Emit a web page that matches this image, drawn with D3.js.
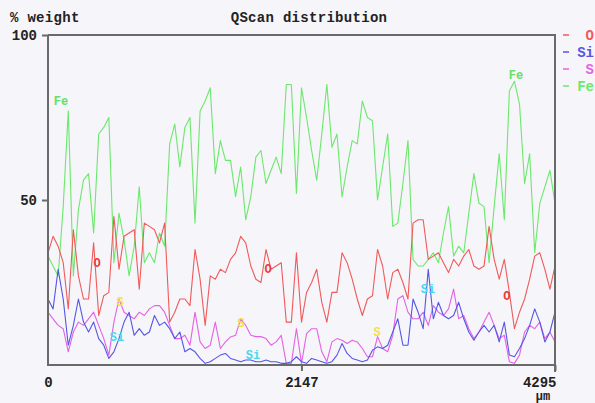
<!DOCTYPE html>
<html>
<head>
<meta charset="utf-8">
<script src="https://cdn.jsdelivr.net/npm/d3@7"></script>
<style>
  html, body { margin: 0; padding: 0; background: #f5f5fa; }
  svg { display: block; }
  text { font-family: "Liberation Mono", "DejaVu Sans Mono", monospace; font-weight: bold; }
</style>
</head>
<body>
<svg id="chart" width="595" height="403"></svg>
<script>
// Scan length along the line profile (µm) and axis ticks
const scanLength = 4295;
const xTickValues = [0, 2147, 4295];
const yTickValues = [50, 100];

// Element order as listed in the legend
const elements = ["O", "Si", "S", "Fe"];

// Weight % of each element along the scan (evenly spaced points)
const oValues = [
  34, 39, 36, 31, 17, 41, 27, 20, 20, 37,
  15, 21, 22, 45, 29, 39, 40, 41, 23, 43,
  42, 41, 37, 43, 13, 16, 20, 20, 18, 35,
  26, 12, 27, 26, 29, 28, 32, 34, 39, 37,
  30, 26, 25, 35, 29, 30, 31, 13, 13, 34,
  13, 22, 25, 29, 19, 13, 22, 22, 34, 31,
  26, 20, 15, 20, 21, 35, 30, 20, 28, 29,
  25, 20, 43, 44, 44, 32, 33, 34, 31, 28,
  32, 30, 33, 35, 30, 29, 30, 42, 32, 26,
  32, 22, 11, 16, 20, 26, 33, 34, 29, 23, 30
];
const siValues = [
  20, 17, 29, 20, 6, 12, 20, 13, 10, 13,
  8, 6, 2, 4, 8, 13, 16, 9, 11, 9,
  10, 15, 12, 13, 11, 8, 10, 4, 5, 4,
  2, 0.5, 1, 2, 3, 3.5, 2, 1.5, 1, 1.5,
  1.5, 1, 1, 1.5, 1, 1, 0.5, 0.5, 1, 2.5,
  1, 0.5, 2, 1.5, 1, 0.5, 1, 3, 6.5, 3.5,
  2, 1.5, 1, 1.5, 4.5, 5.5, 5, 6, 10, 14,
  6, 6, 20, 16, 11, 29, 14, 19, 15, 14,
  15, 19, 14, 10, 7.5, 10, 12, 10, 12, 7,
  13, 3, 2.5, 5, 8, 12, 17, 13, 7, 10, 16
];
const sValues = [
  16, 14, 12, 11, 4, 10, 13, 12, 14, 16,
  12, 8, 3, 13, 20, 16, 15, 14, 16, 15,
  17, 18, 18, 16, 12, 8, 8, 9, 6, 16,
  7, 5, 6, 13, 5, 7, 8.5, 9, 14, 12,
  9, 8.6, 8.6, 8, 6, 7, 9, 0.5, 0.5, 11,
  0.5, 9.5, 11, 11, 4, 1, 7, 8, 7.5, 6.5,
  7.5, 7, 5, 2.5, 2.5, 8.6, 5, 4, 9, 20,
  21, 16, 14, 14, 16, 12, 18, 16, 15, 17,
  23, 14, 15, 11, 8, 10, 13, 16, 12, 8,
  9, 1, 0.5, 3, 10, 12, 11, 13, 8, 10, 7
];
const feValues = [
  33, 30, 27, 48, 77, 27, 47, 56, 58, 40,
  70, 72, 75, 31, 46, 38, 27, 36, 54, 31,
  34, 31, 40, 36, 67, 73, 60, 72, 75, 43,
  77, 80, 84, 58, 68, 62, 62, 51, 60, 44,
  51, 63, 65, 55, 59, 63, 58, 85, 85, 52,
  84, 75, 65, 56, 70, 85, 66, 70, 51, 60,
  68, 67, 80, 75, 74, 50, 60, 70, 42, 43,
  55, 68, 32, 30, 30, 32, 34, 31, 40, 48,
  33, 36, 34, 46, 58, 49, 48, 31, 48, 64,
  44, 83, 86, 79, 55, 64, 34, 49, 54, 59, 49
];

// Element markers placed on the traces: [element, distance µm, weight %]
const markers = [
  ["Fe", 110, 80], ["Fe", 3965, 88],
  ["O", 415, 31], ["O", 1864, 29], ["O", 3888, 21],
  ["S", 610, 19], ["S", 1635, 12.7], ["S", 2787, 10],
  ["Si", 585, 8.5], ["Si", 1737, 3], ["Si", 3219, 23]
];

const lineColors = { O: "#f05a5a", Si: "#5656e4", S: "#e462e4", Fe: "#6ce86c" };
const markerColors = { O: "#e83c3c", Si: "#4ad8ee", S: "#f2e04a", Fe: "#66e066" };
const axisColor = "#6a6a6a";

const series = { O: oValues, Si: siValues, S: sValues, Fe: feValues };

const svg = d3.select("#chart");
const plotLeft = 48, plotRight = 555, plotTop = 35, plotBottom = 365;

const x = d3.scaleLinear().domain([0, scanLength]).range([plotLeft, plotRight]);
const y = d3.scaleLinear().domain([0, 100]).range([plotBottom, plotTop]);

// Titles
svg.append("text").attr("x", 10).attr("y", 22).attr("font-size", 14)
  .attr("letter-spacing", 0.3).attr("fill", "#222").text("% weight");
svg.append("text").attr("x", 309).attr("y", 22).attr("font-size", 14)
  .attr("letter-spacing", 0.3).attr("text-anchor", "middle").attr("fill", "#222").text("QScan distribution");

// Traces (Fe drawn first so the minor elements sit on top)
const drawOrder = ["Fe", "O", "S", "Si"];
const plot = svg.append("g");
drawOrder.forEach(el => {
  const vals = series[el];
  plot.append("path")
    .datum(vals)
    .attr("fill", "none")
    .attr("stroke", lineColors[el])
    .attr("stroke-width", 1.1)
    .attr("stroke-linejoin", "round")
    .attr("d", d3.line()
      .x((d, i) => x(i * scanLength / (vals.length - 1)))
      .y(d => y(d)));
});

// Element markers
svg.append("g").selectAll("text").data(markers).join("text")
  .attr("x", d => x(d[1]))
  .attr("y", d => y(d[2]) + 4)
  .attr("text-anchor", "middle")
  .attr("font-size", 12)
  .attr("fill", d => markerColors[d[0]])
  .text(d => d[0]);

// Frame
const frame = svg.append("g").attr("stroke", axisColor).attr("stroke-width", 2).attr("fill", "none");
frame.append("path").attr("d",
  `M${plotLeft},${plotTop}H${plotRight}V${plotBottom + 7}M${plotRight},${plotBottom}H${plotLeft}V${plotTop}`);

// Y axis
const yAxis = svg.append("g").attr("transform", `translate(${plotLeft},0)`)
  .call(d3.axisLeft(y).tickValues(yTickValues).tickSize(6).tickPadding(5).tickFormat(d3.format("d")));
yAxis.select(".domain").remove();
yAxis.selectAll("line").attr("stroke", axisColor).attr("stroke-width", 2);
yAxis.selectAll("text").attr("font-size", 14).attr("fill", "#222")
  .attr("font-family", "Liberation Mono, monospace").attr("font-weight", "bold");

// X axis
const xAxis = svg.append("g").attr("transform", `translate(0,${plotBottom})`)
  .call(d3.axisBottom(x).tickValues(xTickValues).tickSize(6).tickPadding(6).tickFormat(d3.format("d")));
xAxis.select(".domain").remove();
xAxis.selectAll("line").attr("stroke", axisColor).attr("stroke-width", 2)
  .attr("opacity", d => d === 0 ? 0 : 1);
xAxis.selectAll("text").attr("font-size", 14).attr("fill", "#222")
  .attr("font-family", "Liberation Mono, monospace").attr("font-weight", "bold")
  .attr("text-anchor", d => d === scanLength ? "end" : "middle")
  .attr("dx", d => d === scanLength ? 1 : 0);
svg.append("text").attr("x", 543).attr("y", 400).attr("font-size", 12)
  .attr("text-anchor", "middle").attr("fill", "#222").text("µm");

// Legend
const legend = svg.append("g").selectAll("g").data(elements).join("g")
  .attr("transform", (d, i) => `translate(0,${35 + i * 17})`);
legend.append("line").attr("x1", 563).attr("x2", 569).attr("y1", 0).attr("y2", 0)
  .attr("stroke", d => lineColors[d]).attr("stroke-width", 1.5);
legend.append("text").attr("x", 594).attr("y", 5).attr("font-size", 14)
  .attr("text-anchor", "end").attr("fill", d => lineColors[d]).text(d => d);
</script>
</body>
</html>
